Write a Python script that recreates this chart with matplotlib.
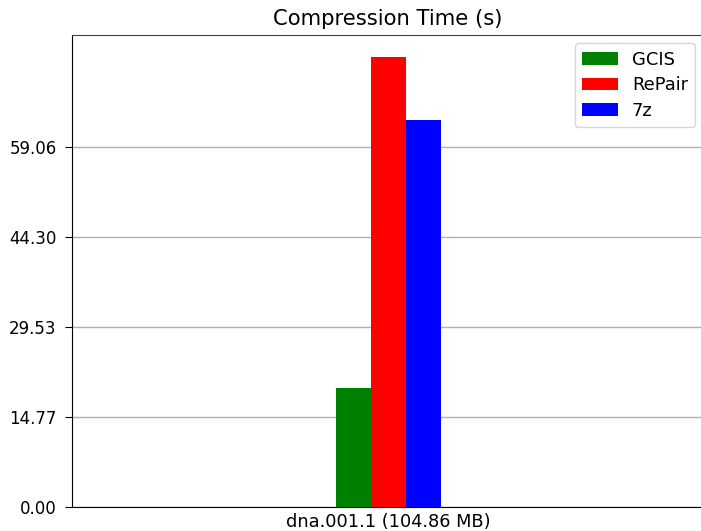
import matplotlib
matplotlib.use("Agg")
import matplotlib.pyplot as plt
import numpy as np

categories = ["dna.001.1 (104.86 MB)"]
series_names = ["GCIS", "RePair", "7z"]
series_colors = ["green", "red", "blue"]
gcis = [19.6]
repair = [73.83]
sevenz = [63.5]
ytick_values = [0.00, 14.77, 29.53, 44.30, 59.06]

plt.rcParams['font.family'] = ['DejaVu Sans']
plt.rcParams['font.size'] = 12.7

fig = plt.figure(figsize=(7.01, 5.31), dpi=100)
ax = fig.add_axes([72/701, 1-507/531, (704-72)/701, (507-34.5)/531])

x = np.arange(len(categories))
w = 0.1
for i, (vals, name, col) in enumerate(zip([gcis, repair, sevenz], series_names, series_colors)):
    ax.bar(x + (i-1)*w, vals, w, color=col, label=name, zorder=3)

ax.set_xlim(-0.904, 0.902)
ax.set_ylim(0, 77.5)
ax.set_yticks(ytick_values)
ax.set_yticklabels([f"{v:.2f}" for v in ytick_values], fontsize=12)
ax.set_xticks(x)
ax.set_xticklabels(categories, fontsize=12.75)
ax.tick_params(axis='x', length=0, pad=4)
ax.tick_params(axis='y', length=5, pad=6)
ax.yaxis.grid(True, color='#b0b0b0', linewidth=1, zorder=0)
ax.set_axisbelow(True)
ax.spines['top'].set_color('#444444')
ax.spines['right'].set_visible(False)
ax.set_title("Compression Time (s)", fontsize=15.25, pad=7)
ax.legend(loc='upper right', fontsize=12.9, labelspacing=0.42)

fig.savefig("out.png", dpi=100)
